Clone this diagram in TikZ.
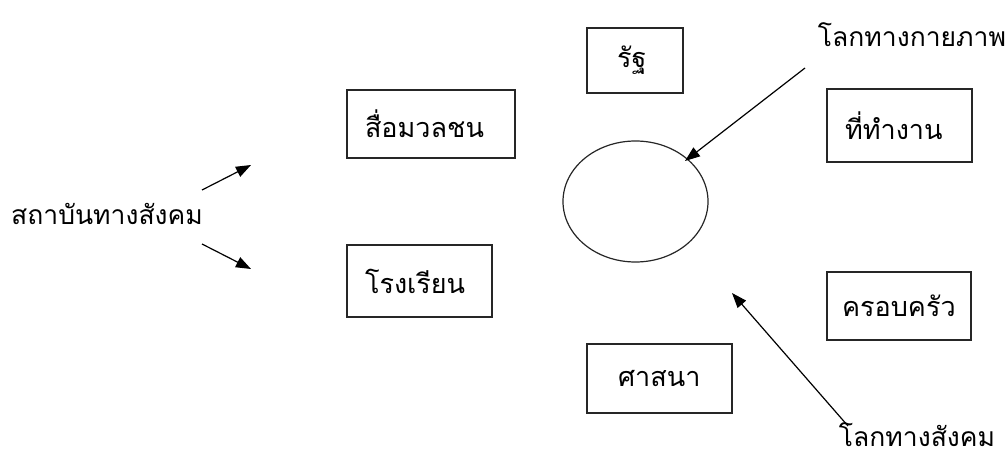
\documentclass[tikz,border=0pt]{standalone}
\usepackage{fontspec}
\newfontfamily\thaifont[Script=Thai]{Loma}
\usetikzlibrary{arrows.meta,shapes.geometric}
\tikzset{
  box/.style={draw=black!85, line width=1.2pt, rectangle, inner ysep=0pt, align=left,
    font=\thaifont\fontsize{27}{30}\selectfont},
  freelbl/.style={inner sep=0pt, font=\thaifont\fontsize{26.5}{30}\selectfont},
  arr/.style={line width=1.2pt, -{Triangle[length=15pt,width=11pt]}},
}
\begin{document}
\begin{tikzpicture}[x=1pt,y=-1pt]
\useasboundingbox (0,0) rectangle (1006,457);
% boxes: center, width, height, left pad
\node[box, minimum width=96pt, minimum height=65pt, inner xsep=30pt, text width=36pt] (state) at (635,60.5) {รัฐ};
\node[box, minimum width=168pt, minimum height=68pt, inner xsep=18pt, text width=132pt] (media) at (431,124) {สื่อมวลชน};
\node[box, minimum width=145pt, minimum height=73pt, inner xsep=18pt, text width=109pt] (work) at (899.5,125.5) {ที่ทำงาน};
\node[box, minimum width=145pt, minimum height=72pt, inner xsep=18pt, text width=109pt] (school) at (419.5,281) {โรงเรียน};
\node[box, minimum width=145pt, minimum height=69pt, inner xsep=31pt, text width=83pt] (religion) at (659.5,378.5) {ศาสนา};
\node[box, minimum width=144pt, minimum height=68pt, inner xsep=15pt, text width=114pt] (family) at (899,306) {ครอบครัว};
% ellipse
\node[draw=black!85, line width=1.2pt, ellipse, minimum width=145pt, minimum height=121pt, inner sep=0pt] (world) at (635.5,201.5) {};
% free labels
\node[freelbl] (phys) at (912,35) {โลกทางกายภาพ};
\node[freelbl] (inst) at (107,214) {สถาบันทางสังคม};
\node[freelbl, anchor=south] (soc) at (917,447) {โลกทางสังคม};
% arrow ends
\coordinate (physT) at (805,68);
\coordinate (physH) at (685,161);
\coordinate (socT) at (848,426);
\coordinate (socH) at (732,293);
\coordinate (upT) at (202,190);
\coordinate (upH) at (251,165);
\coordinate (dnT) at (202,244);
\coordinate (dnH) at (251,269);
\draw[arr] (physT) -- (physH);
\draw[arr] (socT) -- (socH);
\draw[arr] (upT) -- (upH);
\draw[arr] (dnT) -- (dnH);
\end{tikzpicture}
\end{document}
